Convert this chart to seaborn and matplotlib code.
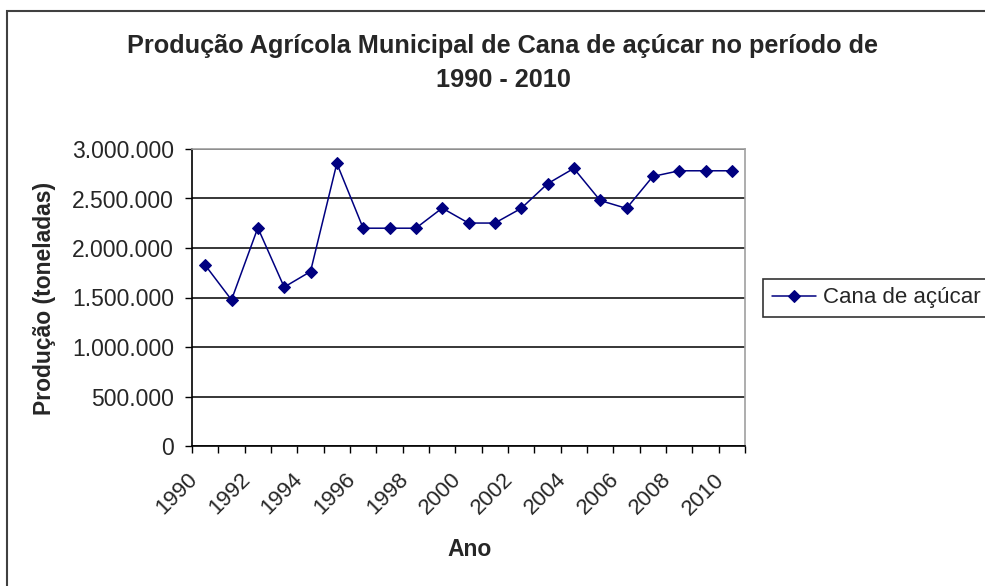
import matplotlib
matplotlib.use("Agg")
import matplotlib.pyplot as plt
import matplotlib.ticker as mticker
import matplotlib.transforms as mtransforms
import seaborn as sns
import pandas as pd
from matplotlib.patches import Rectangle

years = list(range(1990, 2011))
producao = [1827000, 1476000, 2204000, 1605000, 1762000, 2855000, 2200000,
            2200000, 2200000, 2403000, 2252000, 2252000, 2400000, 2649000,
            2804000, 2480000, 2400000, 2723000, 2780000, 2780000, 2780000]
serie = "Cana de açúcar"
titulo = "Produção Agrícola Municipal de Cana de açúcar no período de\n1990 - 2010"
ylabel = "Produção (toneladas)"
xlabel = "Ano"

df = pd.DataFrame({"Ano": years, "Producao": producao, "Serie": serie})

sns.set_theme(style="white")
plt.rcParams['font.family'] = ['Liberation Sans', 'DejaVu Sans']

fig = plt.figure(figsize=(9.85, 5.86), dpi=100)
ax = fig.add_axes([192/985, 1-446/586, (745-192)/985, (446-149)/586])

navy = "#000080"
sns.lineplot(data=df, x="Ano", y="Producao", hue="Serie", palette=[navy],
             marker="D", markersize=6.5, markeredgecolor=navy, linewidth=1.1,
             ax=ax, legend=True)

ax.set_xlim(1989.5, 2010.5)
ax.set_ylim(0, 3000000)
ax.yaxis.set_major_locator(mticker.MultipleLocator(500000))
ax.yaxis.set_major_formatter(mticker.FuncFormatter(lambda v, p: f"{int(v):,}".replace(",", ".")))
ax.xaxis.set_major_locator(mticker.FixedLocator(years[::2]))
ax.xaxis.set_minor_locator(mticker.FixedLocator([y + 0.5 for y in range(1989, 2011)]))
ax.tick_params(axis="x", which="major", length=0, labelsize=16, pad=22)
ax.tick_params(axis="x", which="minor", length=5, width=1, color="black", direction="out", bottom=True)
ax.tick_params(axis="y", which="major", length=5, width=1, color="black", direction="out",
               left=True, labelsize=16.5, pad=8)
shift = mtransforms.ScaledTranslation(-11/100, 0, fig.dpi_scale_trans)
for lbl in ax.get_xticklabels():
    lbl.set_rotation(45)
    lbl.set_ha("right")
    lbl.set_va("center")
    lbl.set_rotation_mode("anchor")
    lbl.set_transform(lbl.get_transform() + shift)

ax.grid(axis="y", color="black", linewidth=1.1)
ax.set_axisbelow(True)
for s in ["top", "right"]:
    ax.spines[s].set_color("#a0a0a0")
    ax.spines[s].set_linewidth(1.2)
for s in ["left", "bottom"]:
    ax.spines[s].set_color("black")
    ax.spines[s].set_linewidth(1.2)

ax.set_xlabel(xlabel, fontsize=16.5, fontweight="bold")
ax.xaxis.set_label_coords(470/985, 1-550/586, transform=fig.transFigure)
ax.set_ylabel(ylabel, fontsize=16.5, fontweight="bold")
ax.yaxis.set_label_coords(45/985, 1-298/586, transform=fig.transFigure)
ax.xaxis.label.set_va("center")
ax.yaxis.label.set_va("center")

fig.text(503/985, 1-63/586, titulo, ha="center", va="center", fontsize=18.2,
         fontweight="bold", linespacing=1.5)

ax.get_legend().remove()
h, l = ax.get_legend_handles_labels()
leg = fig.legend(h, l, loc="center left", bbox_to_anchor=(763/985, 1-298/586),
                 frameon=True, fancybox=False, edgecolor="black", fontsize=16,
                 handlelength=2.0, handletextpad=0.3, borderpad=0.4, borderaxespad=0)
leg.get_frame().set_linewidth(1.2)

fig.patches.append(Rectangle((7/985, -0.05), 1.1, 1-11/586 + 0.05, transform=fig.transFigure,
                             fill=False, edgecolor="#404040", linewidth=1.5))

fig.savefig("out.png", dpi=100)
